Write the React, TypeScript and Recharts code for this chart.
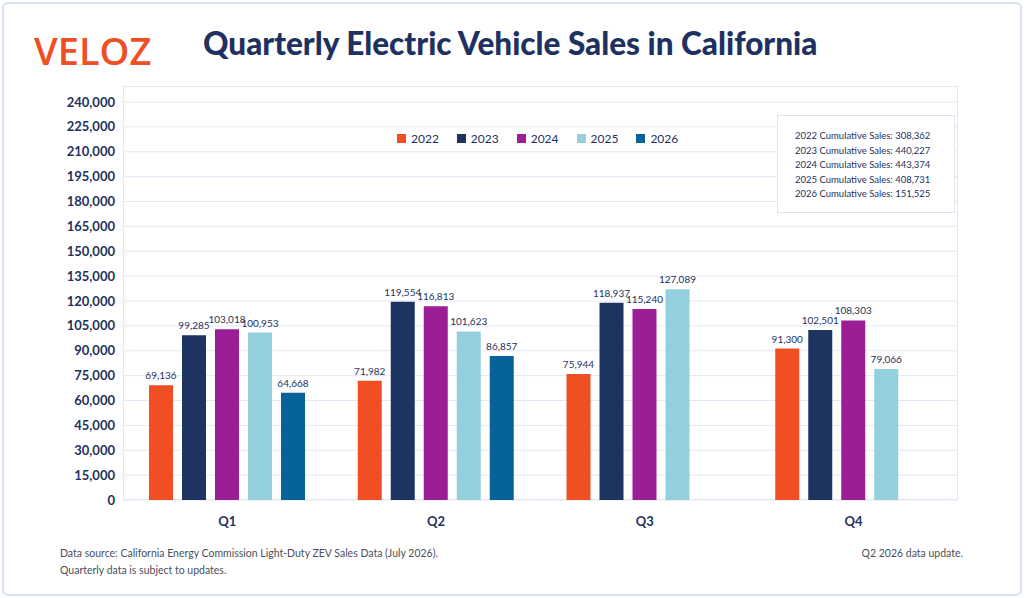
import { BarChart, Bar, XAxis, YAxis, CartesianGrid, LabelList } from 'recharts'

const quarters = ['Q1', 'Q2', 'Q3', 'Q4']
const years = ['2022', '2023', '2024', '2025', '2026']
const colors = ['#f04e23', '#1d3461', '#9b1e97', '#93cfdd', '#08629a']
const s2022 = [69136, 71982, 75944, 91300]
const s2023 = [99285, 119554, 118937, 102501]
const s2024 = [103018, 116813, 115240, 108303]
const s2025 = [100953, 101623, 127089, 79066]
const s2026: (number | null)[] = [64668, 86857, null, null]
const cumulative = ['308,362', '440,227', '443,374', '408,731', '151,525']
const yTicks = Array.from({ length: 17 }, (_, i) => i * 15000)

const series = [s2022, s2023, s2024, s2025, s2026]
const data = quarters.map((q, i) => {
  const row: Record<string, string | number | null> = { q }
  years.forEach((y, k) => { row[y] = series[k][i] })
  return row
})

const navy = '#1e3160'
const font = 'Lato, "Open Sans", sans-serif'

export default function App() {
  return (
    <div style={{ position: 'fixed', left: 0, top: 0, width: 1024, height: 598, background: '#fff', fontFamily: font }}>
      <div style={{ position: 'absolute', left: 2, top: 2, right: 2, bottom: 2, border: '2px solid #d6e2f3', borderRadius: 6 }} />
      <div style={{ position: 'absolute', left: 34, top: 24, fontSize: 38, fontWeight: 600, color: '#f04e23', letterSpacing: 0, fontFamily: '"Open Sans", sans-serif' }}>VELOZ</div>
      <div style={{ position: 'absolute', left: 203, top: 24, fontSize: 31.5, fontWeight: 900, color: navy }}>Quarterly Electric Vehicle Sales in California</div>
      <div style={{ position: 'absolute', left: 123, top: 86, width: 835, height: 414, border: '1px solid #e3e8f4', boxSizing: 'border-box' }} />
      <div style={{ position: 'absolute', left: 0, top: 0 }}>
        <BarChart width={1024} height={540} data={data} margin={{ top: 102, right: 66, bottom: 10, left: 13 }} barSize={24} barGap={9}>
          <CartesianGrid vertical={false} stroke="#e3e8f4" />
          <XAxis dataKey="q" axisLine={false} tickLine={false} tick={{ fill: navy, fontSize: 13, fontWeight: 700, fontFamily: font, dy: 9 }} height={30} />
          <YAxis domain={[0, 240000]} ticks={yTicks} interval={0} axisLine={false} tickLine={false} width={110}
            tickFormatter={(v: number) => v.toLocaleString('en-US')}
            tick={{ fill: navy, fontSize: 13, fontWeight: 700, fontFamily: font }} />
          {years.map((y, k) => (
            <Bar key={y} dataKey={y} fill={colors[k]} isAnimationActive={false}>
              <LabelList dataKey={y} position="top" offset={6} fill={navy} fontSize={10} fontFamily={font}
                formatter={(v: number) => (v == null ? '' : v.toLocaleString('en-US'))} />
            </Bar>
          ))}
        </BarChart>
      </div>
      <div style={{ position: 'absolute', left: 397, top: 131, display: 'flex', gap: 18, fontSize: 12, color: navy }}>
        {years.map((y, k) => (
          <div key={y} style={{ display: 'flex', alignItems: 'center', gap: 5 }}>
            <span style={{ width: 9, height: 9, background: colors[k], display: 'inline-block' }} />{y}
          </div>
        ))}
      </div>
      <div style={{ position: 'absolute', left: 777, top: 115, width: 178, height: 98, border: '1px solid #dde4f0', background: '#fff', boxSizing: 'border-box', padding: '13px 0 0 17px', fontSize: 9.5, lineHeight: '14.5px', color: navy }}>
        {years.map((y, k) => <div key={y}>{y} Cumulative Sales: {cumulative[k]}</div>)}
      </div>
      <div style={{ position: 'absolute', left: 60, top: 545, fontSize: 10.5, lineHeight: '17px', color: '#4a4f5c' }}>
        <div>Data source: California Energy Commission Light-Duty ZEV Sales Data (July 2026).</div>
        <div>Quarterly data is subject to updates.</div>
      </div>
      <div style={{ position: 'absolute', right: 61, top: 545, fontSize: 10.5, lineHeight: '17px', color: '#4a4f5c' }}>Q2 2026 data update.</div>
    </div>
  )
}
